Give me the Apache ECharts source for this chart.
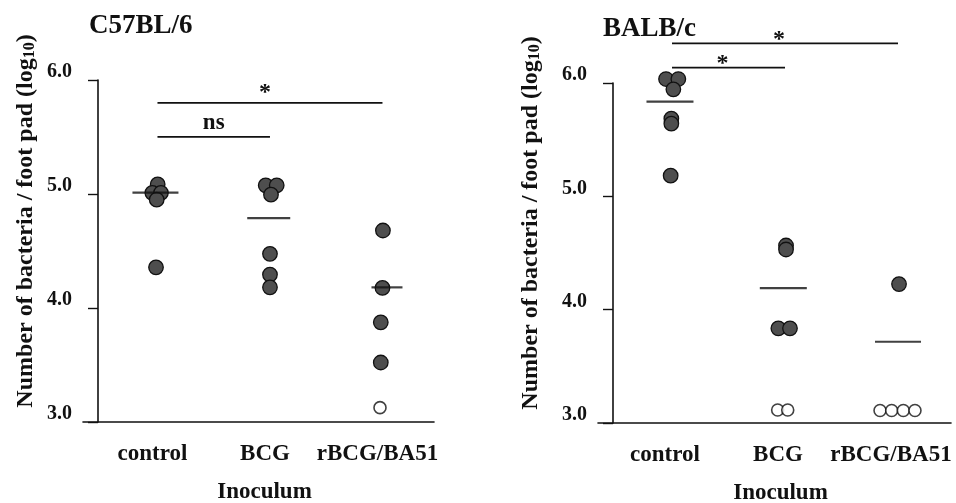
<!DOCTYPE html>
<html>
<head>
<meta charset="utf-8">
<script src="https://cdn.jsdelivr.net/npm/echarts@6/dist/echarts.min.js"></script>
<style>html,body{margin:0;padding:0;background:#fff;}#c{width:956px;height:503px;}</style>
</head>
<body>
<div id="c"></div>
<script>
// ---------- data ----------
var categories = ['control', 'BCG', 'rBCG/BA51'];
var yTicks = [3, 4, 5, 6];

// C57BL/6 panel: [x position (category index + jitter), log10 value]
var c57Filled = [[1.002, 5.085], [0.954, 5.01], [1.031, 5.01], [0.993, 4.95], [0.987, 4.357],
                 [1.962, 5.076], [2.06, 5.076], [2.009, 4.994], [2.0, 4.475], [2.0, 4.293], [2.0, 4.181],
                 [3.004, 4.68], [3.0, 4.176], [2.985, 3.874], [2.985, 3.522]];
var c57Open = [[2.978, 3.126]];
var c57Means = [[0.982, 5.012], [1.989, 4.789], [3.04, 4.181]];
var c57SigNs = [[1, 5.501], [2, 5.501]];
var c57SigStar = [[1, 5.80], [3, 5.80]];

// BALB/c panel
var balbFilled = [[0.947, 6.035], [1.056, 6.035], [1.012, 5.944], [0.994, 5.685], [0.994, 5.641], [0.988, 5.182],
                  [2.009, 4.566], [2.009, 4.531], [1.941, 3.835], [2.044, 3.835],
                  [3.009, 4.226]];
var balbOpen = [[1.935, 3.115], [2.024, 3.115], [2.841, 3.11], [2.944, 3.11], [3.047, 3.11], [3.15, 3.11]];
var balbMeans = [[0.982, 5.835], [1.985, 4.19], [3.0, 3.717]];
var balbSigA = [[1, 6.135], [2, 6.135]];
var balbSigB = [[1, 6.35], [3, 6.35]];

// ---------- chart ----------
var FONT = '"Liberation Serif", "Times New Roman", serif';
var INK = '#111';
var chart = echarts.init(document.getElementById('c'), null, {renderer: 'canvas'});

function xAxisCfg(grid, min, max, pad) {
  return {
    gridIndex: grid, type: 'value', min: min, max: max,
    axisLine: {show: true, onZero: false, lineStyle: {color: INK, width: 1.6}},
    axisTick: {show: false}, splitLine: {show: false},
    axisLabel: {
      customValues: [1, 2, 3], margin: 21,
      formatter: function (v) { return categories[Math.round(v) - 1] || ''; },
      fontFamily: FONT, fontWeight: 'bold', fontSize: 23, color: INK,
      padding: [0, pad, 0, 0]
    },
    name: 'Inoculum', nameLocation: 'middle', nameGap: 59,
    nameTextStyle: {fontFamily: FONT, fontWeight: 'bold', fontSize: 23, color: INK, padding: [0, 0, 0, 12]}
  };
}
function yAxisCfg(grid, offset, nameGap) {
  return {
    gridIndex: grid, type: 'value', min: 3, max: 6, interval: 1, offset: offset,
    axisLine: {show: true, lineStyle: {color: INK, width: 1.6}},
    axisTick: {show: true, length: 10, lineStyle: {color: INK, width: 1.4}},
    splitLine: {show: false},
    axisLabel: {
      margin: 26, fontFamily: FONT, fontWeight: 'bold', fontSize: 20, color: INK,
      formatter: function (v) { return v.toFixed(1); },
      verticalAlign: 'bottom', lineHeight: 16
    },
    name: '{a|Number of bacteria / foot pad (log}{s|10}{a|)}',
    nameLocation: 'middle', nameGap: nameGap, nameRotate: 90,
    nameTextStyle: {
      padding: [0, 0, 0, 60],
      rich: {
        a: {fontFamily: FONT, fontWeight: 'bold', fontSize: 24, color: INK, verticalAlign: 'bottom', lineHeight: 27},
        s: {fontFamily: FONT, fontWeight: 'bold', fontSize: 16, color: INK, verticalAlign: 'bottom', lineHeight: 23}
      }
    }
  };
}
function dots(xi, data, open) {
  return {
    type: 'scatter', xAxisIndex: xi, yAxisIndex: xi, data: data, clip: false,
    symbol: 'circle', symbolSize: open ? 12 : 14.5, z: 5,
    itemStyle: open ? {color: '#fff', borderColor: INK, borderWidth: 1.6}
                    : {color: '#4e4e4e', borderColor: '#111', borderWidth: 1.3, opacity: 1}
  };
}
function means(xi, data, widths) {
  return {
    type: 'scatter', xAxisIndex: xi, yAxisIndex: xi, clip: false, z: 6,
    data: data.map(function (d, i) { return {value: d, symbolSize: [widths[i], 2.2]}; }),
    symbol: 'rect', itemStyle: {color: INK}
  };
}
function sigLine(xi, data) {
  return {
    type: 'line', xAxisIndex: xi, yAxisIndex: xi, data: data, clip: false,
    symbol: 'none', lineStyle: {color: INK, width: 1.8}, z: 4, silent: true
  };
}
function sigText(xi, data, text, fs, dist, dx) {
  return {
    type: 'scatter', xAxisIndex: xi, yAxisIndex: xi, clip: false, z: 7,
    symbolSize: 1, silent: true, itemStyle: {opacity: 0},
    data: [[(data[0][0] + data[1][0]) / 2, data[0][1]]],
    label: {show: true, formatter: text, position: 'top', distance: dist, offset: [dx, 0],
            fontFamily: FONT, fontWeight: 'bold', fontSize: fs, color: INK, opacity: 1}
  };
}

chart.setOption({
  animation: false,
  backgroundColor: '#fff',
  title: [
    {text: 'C57BL/6', left: 84, top: 8, textStyle: {fontFamily: FONT, fontWeight: 'bold', fontSize: 27, color: INK}},
    {text: 'BALB/c', left: 598, top: 11, textStyle: {fontFamily: FONT, fontWeight: 'bold', fontSize: 27, color: INK}}
  ],
  grid: [
    {left: 83, top: 80, width: 351, height: 342, outerBoundsMode: 'none', containLabel: false},
    {left: 598, top: 83, width: 353, height: 340, outerBoundsMode: 'none', containLabel: false}
  ],
  xAxis: [xAxisCfg(0, 0.338, 3.458, 10), xAxisCfg(1, 0.345, 3.469, 14)],
  yAxis: [yAxisCfg(0, -15, 60), yAxisCfg(1, -15, 70)],
  series: [
    dots(0, c57Filled, false), dots(0, c57Open, true), means(0, c57Means, [46, 43, 31]),
    sigLine(0, c57SigNs), sigText(0, c57SigNs, 'ns', 23, 2, 0),
    sigLine(0, c57SigStar), sigText(0, c57SigStar, '*', 24, -2, -5),
    dots(1, balbFilled, false), dots(1, balbOpen, true), means(1, balbMeans, [47, 47, 46]),
    sigLine(1, balbSigA), sigText(1, balbSigA, '*', 24, -9, -6),
    sigLine(1, balbSigB), sigText(1, balbSigB, '*', 24, -9, -6)
  ]
});
</script>
</body>
</html>
